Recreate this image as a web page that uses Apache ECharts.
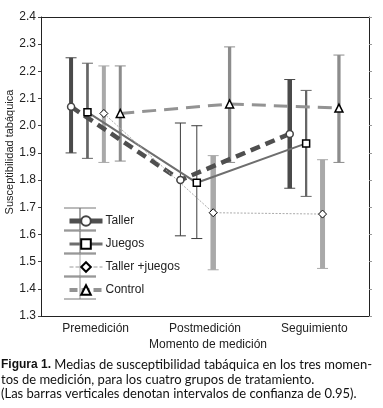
<!DOCTYPE html>
<html>
<head>
<meta charset="utf-8">
<script src="https://cdn.jsdelivr.net/npm/echarts@6/dist/echarts.min.js"></script>
<style>
html, body { margin: 0; padding: 0; background: #fff; }
#chart { width: 383px; height: 408px; }
</style>
</head>
<body>
<div id="chart"></div>
<script>
// momentos de medicion y grupos
var momentos = ['Premedición', 'Postmedición', 'Seguimiento'];
var grupos = ['Taller', 'Juegos', 'Taller +juegos', 'Control'];
var yTicks = [1.3, 1.4, 1.5, 1.6, 1.7, 1.8, 1.9, 2.0, 2.1, 2.2, 2.3, 2.4];

// medias por grupo
var taller = [2.07, 1.80, 1.97];
var juegos = [2.05, 1.79, 1.935];
var tallerJuegos = [2.045, 1.68, 1.675];
var control = [2.045, 2.08, 2.065];

// intervalos de confianza 0.95 (inferior / superior)
var tallerLo = [1.90, 1.595, 1.77];
var tallerHi = [2.25, 2.01, 2.17];
var juegosLo = [1.88, 1.585, 1.74];
var juegosHi = [2.23, 2.00, 2.13];
var tallerJuegosLo = [1.865, 1.47, 1.475];
var tallerJuegosHi = [2.22, 1.89, 1.875];
var controlLo = [1.87, 1.865, 1.865];
var controlHi = [2.22, 2.29, 2.26];

var medias = [taller, juegos, tallerJuegos, control];
var lows = [tallerLo, juegosLo, tallerJuegosLo, controlLo];
var highs = [tallerHi, juegosHi, tallerJuegosHi, controlHi];

// desplazamiento horizontal de cada grupo dentro de la categoria
var desplaz = [-0.225, -0.075, 0.075, 0.225];
var colores = ['#4f4f4f', '#6e6e6e', '#ababab', '#939393'];
var barColores = [['#4a4a4a', '#3c3c3c', '#4a4a4a'], ['#666666', '#3c3c3c', '#666666'],
                  ['#a9a9a9', '#a9a9a9', '#a9a9a9'], ['#8c8c8c', '#8c8c8c', '#8c8c8c']];
var anchos = [[4, 1, 4.5], [2.7, 1, 2.3], [4, 5.5, 5], [3, 3.3, 3.3]];
var font = 'Liberation Sans, Arial, sans-serif';
var fontPie = 'Lato, sans-serif';

var chart = echarts.init(document.getElementById('chart'));

var lineStyles = [
    { color: colores[0], width: 4.5, type: [10, 6] },
    { color: colores[1], width: 2, type: 'solid' },
    { color: colores[2], width: 1, type: [2, 1.5] },
    { color: colores[3], width: 3, type: [14, 8] }
];
// trazo de la leyenda
var leyendaLineas = [
    { color: colores[0], width: 5, type: 'solid' },
    { color: colores[1], width: 3, type: 'solid' },
    { color: '#9a9a9a', width: 1, type: 'dashed' },
    { color: colores[3], width: 4, type: [8, 4] }
];
var simbolos = ['circle', 'rect', 'diamond', 'triangle'];
var tamanos = [7, 7, 8, 8];

var series = [];
grupos.forEach(function (g, gi) {
    var eb = momentos.map(function (m, i) {
        return [i + 0.5 + desplaz[gi], lows[gi][i], highs[gi][i], i];
    });
    series.push({
        name: 'ic' + gi,
        type: 'custom',
        xAxisIndex: 1,
        z: 1,
        silent: true,
        data: eb,
        renderItem: function (params, api) {
            var x = api.value(0);
            var i = api.value(3);
            var lo = api.coord([x, api.value(1)]);
            var hi = api.coord([x, api.value(2)]);
            var w = anchos[gi][i];
            var c = barColores[gi][i];
            var cap = 5.5;
            return {
                type: 'group',
                children: [
                    { type: 'rect', shape: { x: lo[0] - w / 2, y: hi[1], width: w, height: lo[1] - hi[1] }, style: { fill: c } },
                    { type: 'line', shape: { x1: lo[0] - cap, y1: hi[1], x2: lo[0] + cap, y2: hi[1] }, style: { stroke: c, lineWidth: 1 } },
                    { type: 'line', shape: { x1: lo[0] - cap, y1: lo[1], x2: lo[0] + cap, y2: lo[1] }, style: { stroke: c, lineWidth: 1 } }
                ]
            };
        }
    });
});
grupos.forEach(function (g, gi) {
    series.push({
        name: g,
        type: 'line',
        xAxisIndex: 1,
        z: 3,
        data: medias[gi].map(function (v, i) { return [i + 0.5 + desplaz[gi], v]; }),
        symbol: simbolos[gi],
        symbolSize: tamanos[gi],
        showAllSymbol: true,
        lineStyle: lineStyles[gi],
        itemStyle: { color: '#ffffff', borderColor: gi === 0 ? '#444' : '#000', borderWidth: gi === 2 ? 1 : 1.5 },
        emphasis: { disabled: true },
        animation: false
    });
});

// barras de error en la leyenda
var leyendaY = [219, 242, 265, 288];
var graficos = [];
leyendaY.forEach(function (y, gi) {
    var c = barColores[gi][0];
    graficos.push({ type: 'line', shape: { x1: 80, y1: y - 11, x2: 80, y2: y + 11 }, style: { stroke: c, lineWidth: 1 }, z: 1 });
    graficos.push({ type: 'line', shape: { x1: 64, y1: y - 11, x2: 96, y2: y - 11 }, style: { stroke: '#777', lineWidth: 1 }, z: 1 });
    graficos.push({ type: 'line', shape: { x1: 64, y1: y + 11, x2: 96, y2: y + 11 }, style: { stroke: '#777', lineWidth: 1 }, z: 1 });
});
graficos.push({
    type: 'text', x: 10, y: 152, rotation: Math.PI / 2,
    style: { text: 'Susceptibilidad tabáquica', font: '11px ' + font, fill: '#222', align: 'center', verticalAlign: 'middle' }
});
graficos.push({
    type: 'text', x: 208, y: 345,
    style: { text: 'Momento de medición', font: '12px ' + font, fill: '#222', align: 'center', verticalAlign: 'middle' }
});
graficos.push({
    type: 'text', x: 1, y: 365,
    style: {
        text: '{b|Figura 1.} Medias de susceptibilidad tabáquica en los tres momen-',
        font: '13px ' + fontPie, fill: '#111', verticalAlign: 'middle',
        rich: { b: { fontWeight: 'bold', font: 'bold 13px ' + fontPie, fill: '#111' } }
    }
});
graficos.push({
    type: 'text', x: 1, y: 379.5,
    style: { text: 'tos de medición, para los cuatro grupos de tratamiento.', font: '13px ' + fontPie, fill: '#111', verticalAlign: 'middle' }
});
graficos.push({
    type: 'text', x: 1, y: 394,
    style: { text: '(Las barras verticales denotan intervalos de confianza de 0.95).', font: '13px ' + fontPie, fill: '#111', verticalAlign: 'middle' }
});

chart.setOption({
    animation: false,
    backgroundColor: '#ffffff',
    grid: { left: 41, top: 17, width: 328, height: 299 },
    legend: {
        data: grupos.map(function (g, gi) { return { name: g, lineStyle: leyendaLineas[gi] }; }),
        orient: 'vertical',
        left: 62,
        top: 210,
        itemWidth: 33,
        itemHeight: 12,
        itemGap: 11,
        selectedMode: false,
        textStyle: { fontSize: 12, color: '#222', fontFamily: font, padding: [0, 0, 0, -2] }
    },
    xAxis: [
        {
            type: 'category', data: momentos, boundaryGap: true,
            axisLine: { lineStyle: { color: '#222' } },
            axisTick: { alignWithLabel: true, length: 5, lineStyle: { color: '#222' } },
            axisLabel: { fontSize: 12, color: '#222', fontFamily: font, margin: 7 },
            splitLine: { show: false }
        },
        { type: 'value', min: 0, max: 3, show: false },
        {
            type: 'category', data: momentos, position: 'top', boundaryGap: true,
            axisLine: { lineStyle: { color: '#222' } },
            axisTick: { alignWithLabel: true, length: 4, lineStyle: { color: '#444' } },
            axisLabel: { show: false }
        }
    ],
    yAxis: [
        {
            type: 'value', min: 1.3, max: 2.4, interval: 0.1,
            axisLine: { show: true, lineStyle: { color: '#222' } },
            axisTick: { show: true, length: 3, lineStyle: { color: '#444' } },
            axisLabel: {
                fontSize: 12, color: '#222', fontFamily: font, margin: 5,
                formatter: function (v) { return yTicks.indexOf(Math.round(v * 10) / 10) >= 0 ? v.toFixed(1) : ''; }
            },
            splitLine: { show: false }
        },
        {
            type: 'value', min: 1.3, max: 2.4, interval: 0.1, position: 'right',
            axisLine: { show: true, lineStyle: { color: '#222' } },
            axisTick: { show: true, length: 3, lineStyle: { color: '#999' } },
            axisLabel: { show: false },
            splitLine: { show: false }
        }
    ],
    graphic: graficos,
    series: series
});
</script>
</body>
</html>
